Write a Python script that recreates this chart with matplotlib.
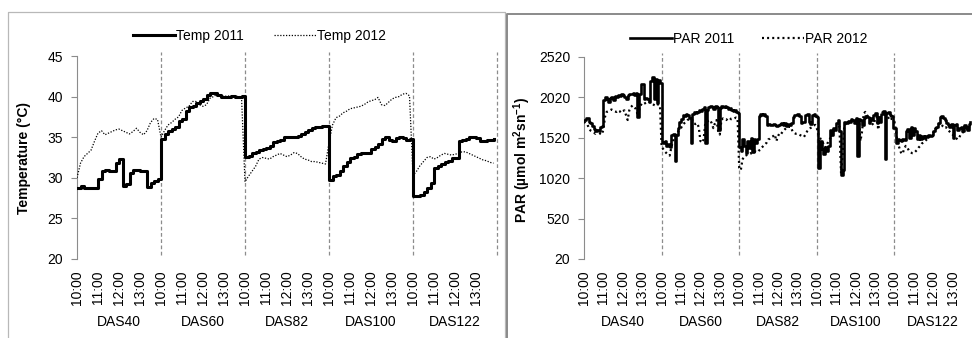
import matplotlib.pyplot as plt
import numpy as np
from matplotlib.lines import Line2D

plt.rcParams['font.family'] = ['Liberation Sans', 'DejaVu Sans']
plt.rcParams['mathtext.fontset'] = 'custom'
plt.rcParams['mathtext.rm'] = 'Liberation Sans'
plt.rcParams['mathtext.bf'] = 'Liberation Sans:bold'

# ========================================
# Data (per day 10:00-14:00)
# ========================================
days = ['DAS40', 'DAS60', 'DAS82', 'DAS100', 'DAS122']
hour_labels = ['10:00', '11:00', '12:00', '13:00']

# temperature, one reading every 10 min
temp_2011 = [
    [28.8, 29.0, 28.7, 28.7, 28.7, 28.7, 29.8, 30.8, 30.9, 30.8, 30.8, 31.8,
     32.3, 29.0, 29.2, 30.6, 30.9, 30.9, 30.8, 30.8, 28.9, 29.3, 29.6, 29.9],
    [34.8, 35.4, 35.8, 36.0, 36.3, 37.0, 37.3, 38.2, 38.7, 38.8, 39.2, 39.5,
     39.7, 40.2, 40.4, 40.4, 40.2, 39.9, 40.0, 39.9, 40.1, 40.0, 40.0, 40.1],
    [32.6, 32.7, 33.0, 33.2, 33.4, 33.6, 33.7, 33.9, 34.4, 34.5, 34.6, 35.0,
     35.0, 35.0, 35.0, 35.1, 35.4, 35.6, 35.9, 36.1, 36.3, 36.3, 36.4, 36.4],
    [29.7, 30.2, 30.3, 30.8, 31.4, 32.0, 32.4, 32.6, 32.9, 33.0, 33.0, 33.0,
     33.5, 33.8, 34.2, 34.8, 35.0, 34.7, 34.5, 34.9, 35.0, 34.9, 34.6, 34.8],
    [27.8, 27.8, 27.9, 28.3, 28.8, 29.3, 31.2, 31.5, 31.7, 31.9, 32.1, 32.4,
     32.5, 34.5, 34.7, 34.8, 35.0, 35.0, 34.9, 34.5, 34.5, 34.7, 34.7, 34.8],
]
temp_2012 = [
    [30.0, 31.8, 32.6, 33.0, 33.4, 34.5, 35.5, 35.8, 35.3, 35.5, 35.7, 35.9,
     36.0, 35.8, 35.6, 35.4, 35.7, 36.1, 35.6, 35.3, 35.8, 36.8, 37.3, 37.2],
    [35.0, 35.8, 36.5, 36.8, 37.2, 37.5, 38.3, 38.6, 38.8, 39.4, 39.4, 39.0,
     38.8, 39.0, 39.8, 40.0, 40.3, 40.2, 40.0, 40.1, 40.0, 40.1, 40.0, 40.0],
    [29.5, 30.2, 30.8, 31.4, 32.3, 32.5, 32.4, 32.3, 32.6, 32.8, 33.0, 32.8,
     32.6, 32.8, 33.1, 33.0, 32.6, 32.3, 32.2, 32.0, 32.0, 31.9, 31.8, 31.7],
    [34.3, 36.5, 37.4, 37.6, 38.0, 38.2, 38.5, 38.6, 38.7, 38.8, 39.0, 39.3,
     39.5, 39.6, 39.9, 39.0, 38.9, 39.3, 39.7, 39.9, 40.0, 40.3, 40.4, 40.1],
    [30.3, 30.8, 31.5, 32.0, 32.5, 32.6, 32.3, 32.5, 32.8, 33.0, 32.9, 32.8,
     32.9, 33.0, 33.2, 33.2, 33.0, 32.8, 32.6, 32.4, 32.2, 32.1, 31.9, 31.8],
]

# PAR, one reading every 5 min
par_2011 = [
    [1740, 1770, 1760, 1720, 1700, 1660, 1630, 1610, 1620, 1610, 1650, 1660,
     1990, 2030, 2000, 1960, 2010, 2030, 1990, 2040, 2030, 2050, 2040, 2060,
     2050, 2030, 2000, 2050, 2060, 2060, 2070, 2050, 2070, 1780, 2060, 2190,
     2180, 2000, 2010, 2000, 1960, 2220, 2270, 2000, 2250, 1950, 2240, 2200],
    [1470, 1450, 1480, 1420, 1440, 1410, 1560, 1570, 1230, 1560, 1640, 1720,
     1750, 1800, 1790, 1810, 1800, 1760, 1450, 1820, 1840, 1830, 1840, 1870,
     1850, 1880, 1900, 1450, 1870, 1900, 1910, 1900, 1880, 1910, 1900, 1620,
     1890, 1910, 1900, 1910, 1900, 1880, 1890, 1860, 1850, 1860, 1840, 1830],
    [1400, 1360, 1500, 1420, 1330, 1480, 1390, 1520, 1340, 1500, 1450, 1500,
     1790, 1810, 1800, 1810, 1790, 1680, 1690, 1680, 1680, 1690, 1680, 1670,
     1680, 1690, 1700, 1680, 1700, 1660, 1690, 1680, 1700, 1780, 1800, 1800,
     1810, 1790, 1700, 1710, 1720, 1800, 1810, 1720, 1690, 1800, 1820, 1790],
    [1780, 1150, 1480, 1380, 1320, 1400, 1360, 1420, 1620, 1560, 1640, 1620,
     1700, 1740, 1600, 1060, 1120, 1720, 1700, 1730, 1720, 1750, 1740, 1700,
     1760, 1290, 1750, 1740, 1680, 1770, 1790, 1780, 1700, 1760, 1740, 1800,
     1830, 1700, 1780, 1720, 1820, 1850, 1260, 1830, 1840, 1800, 1790, 1640],
    [1640, 1460, 1500, 1490, 1480, 1500, 1490, 1600, 1630, 1520, 1650, 1560,
     1640, 1600, 1500, 1560, 1500, 1540, 1520, 1540, 1530, 1550, 1540, 1560,
     1600, 1640, 1650, 1700, 1780, 1790, 1760, 1740, 1700, 1680, 1650, 1690,
     1520, 1680, 1690, 1620, 1640, 1650, 1600, 1680, 1650, 1620, 1690, 1720],
]
par_2012 = [
    [1720, 1700, 1690, 1640, 1610, 1600, 1590, 1570, 1600, 1620, 1570, 1560,
     1620, 1780, 1840, 1850, 1860, 1870, 1860, 1850, 1840, 1860, 1850, 1830,
     1850, 1860, 1800, 1740, 1860, 1900, 1920, 1900, 1880, 1820, 1860, 1920,
     1950, 1940, 1950, 1960, 1970, 1960, 1940, 1930, 1920, 1940, 1930, 1920],
    [1410, 1380, 1350, 1330, 1310, 1300, 1400, 1480, 1520, 1560, 1590, 1620,
     1640, 1680, 1700, 1720, 1740, 1750, 1760, 1740, 1700, 1690, 1700, 1650,
     1480, 1460, 1500, 1700, 1720, 1730, 1740, 1700, 1640, 1700, 1740, 1600,
     1560, 1740, 1760, 1750, 1740, 1760, 1770, 1750, 1760, 1760, 1770, 1760],
    [1150, 1120, 1250, 1290, 1300, 1310, 1320, 1330, 1320, 1340, 1350, 1340,
     1360, 1370, 1400, 1420, 1440, 1460, 1500, 1510, 1530, 1540, 1560, 1480,
     1540, 1580, 1570, 1600, 1620, 1640, 1640, 1660, 1650, 1600, 1580, 1570,
     1570, 1560, 1550, 1540, 1530, 1560, 1600, 1620, 1640, 1650, 1670, 1680],
    [1640, 1560, 1520, 1480, 1450, 1400, 1420, 1470, 1500, 1540, 1580, 1610,
     1630, 1650, 1660, 1080, 1300, 1680, 1690, 1700, 1720, 1710, 1740, 1700,
     1740, 1760, 1750, 1480, 1600, 1820, 1840, 1800, 1780, 1760, 1700, 1680,
     1740, 1780, 1620, 1760, 1800, 1850, 1840, 1820, 1780, 1740, 1760, 1730],
    [1720, 1600, 1460, 1400, 1340, 1320, 1380, 1420, 1400, 1360, 1340, 1330,
     1330, 1350, 1370, 1400, 1420, 1450, 1460, 1480, 1500, 1520, 1540, 1560,
     1580, 1620, 1650, 1680, 1700, 1690, 1660, 1640, 1650, 1620, 1600, 1580,
     1560, 1540, 1520, 1500, 1520, 1560, 1580, 1600, 1620, 1640, 1650, 1660],
]

GRAY = '#8c8c8c'
FS = 10
W, H = 972, 338


def day_series(per_day, step):
    """Flatten day lists to (minutes since first 10:00, values)."""
    x, y = [], []
    for d, vals in enumerate(per_day):
        x.extend(d * 240 + step * np.arange(len(vals)))
        y.extend(vals)
    return np.array(x), np.array(y)


def style_axes(ax, yticks, ylabel, last_line):
    ax.set_xlim(0, 1200)
    ax.set_ylim(yticks[0], yticks[-1])
    ax.set_yticks(yticks)
    ax.set_xticks([d * 240 + h * 60 for d in range(5) for h in range(4)])
    ax.set_xticklabels(hour_labels * 5, rotation=90, fontsize=FS)
    ax.tick_params(axis='x', length=0, pad=8)
    ax.tick_params(axis='y', length=4, width=0.8, color=GRAY, pad=6, labelsize=FS)
    for s in ['top', 'right', 'bottom']:
        ax.spines[s].set_visible(False)
    ax.spines['left'].set_color(GRAY)
    ax.spines['left'].set_linewidth(0.8)
    bounds = [240, 480, 720, 960] + ([1200] if last_line else [])
    for b in bounds:
        ax.axvline(b, ymin=0.02, ymax=1.02, color=GRAY, ls=(0, (3, 2)),
                   lw=0.9, clip_on=False, zorder=1)
    for d, name in enumerate(days):
        ax.text(d * 240 + 120, -0.31, name, transform=ax.get_xaxis_transform(),
                ha='center', va='center', fontsize=FS)
    ax.set_ylabel(ylabel, fontsize=FS, fontweight='bold')


fig = plt.figure(figsize=(W / 100, H / 100), dpi=100)

# ========================================
# Left panel: temperature
# ========================================
ax1 = fig.add_axes([77 / W, 1 - 259 / H, 420 / W, 203 / H])
x, y = day_series(temp_2011, 10)
ax1.plot(x, y, color='black', lw=2.2, drawstyle='steps-post', label='Temp 2011', zorder=3)
x, y = day_series(temp_2012, 10)
ax1.plot(x, y, color='black', lw=0.9, ls=(0, (1, 1.3)), label='Temp 2012', zorder=3)
style_axes(ax1, [20, 25, 30, 35, 40, 45], 'Temperature (°C)', True)
ax1.yaxis.set_label_coords(-0.11, 0.5)
ax1.legend(loc='center', bbox_to_anchor=(0.435, 1.10), ncol=2, frameon=False,
           fontsize=FS, handlelength=3.0, handletextpad=0.1, columnspacing=2.2)

# ========================================
# Right panel: PAR
# ========================================
ax2 = fig.add_axes([584 / W, 1 - 259 / H, 388 / W, 202 / H])
x, y = day_series(par_2011, 5)
ax2.plot(x, y, color='black', lw=1.9, drawstyle='steps-post', label='PAR 2011', zorder=3)
x, y = day_series(par_2012, 5)
ax2.plot(x, y, color='black', lw=1.6, ls=(0, (0.9, 1.4)), label='PAR 2012', zorder=3)
style_axes(ax2, [20, 520, 1020, 1520, 2020, 2520],
           r'PAR (µmol m$^{\mathbf{2}}$sn$^{\mathbf{-1}}$)', False)
ax2.yaxis.set_label_coords(-0.131, 0.49)
ax2.legend(loc='center', bbox_to_anchor=(0.425, 1.09), ncol=2, frameon=False,
           fontsize=FS, handlelength=3.0, handletextpad=0.1, columnspacing=2.0)

# ========================================
# Chart frames
# ========================================
def frame_line(xs, ys, color, lw):
    fig.add_artist(Line2D([v / W for v in xs], [1 - v / H for v in ys],
                          transform=fig.transFigure, color=color, lw=lw))

frame_line([8, 8, 505, 505], [H + 2, 12, 12, H + 2], '#b8b8b8', 0.9)
frame_line([507, 507, W + 2], [H + 2, 14, 14], '#8a8a8a', 1.4)

plt.savefig('out.png', dpi=100)
